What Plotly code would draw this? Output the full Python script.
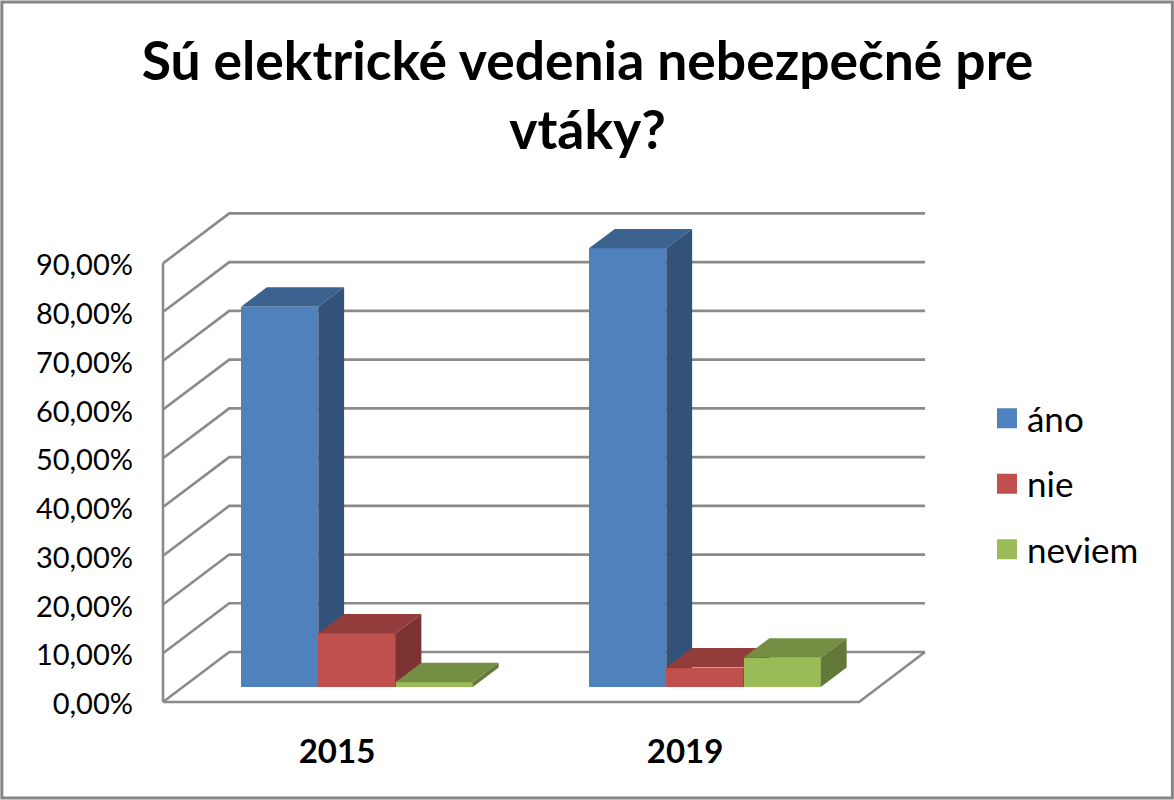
import plotly.graph_objects as go

# ---- data ----
title_text = "Sú elektrické vedenia nebezpečné pre<br>vtáky?"
years = ["2015", "2019"]
series_names = ["áno", "nie", "neviem"]
ano = [78, 90]
nie = [11, 4]
neviem = [1, 6]
y_ticks = [0, 10, 20, 30, 40, 50, 60, 70, 80, 90]
y_tick_labels = ["0,00%", "10,00%", "20,00%", "30,00%", "40,00%",
                 "50,00%", "60,00%", "70,00%", "80,00%", "90,00%"]

front_colors = ["#4F81BD", "#C0504D", "#9BBB59"]
top_colors = ["#3C6290", "#923D3B", "#768E44"]
side_colors = ["#325279", "#7C3331", "#647939"]
line_color = "#8A8A8A"
FONT = "Lato"

# ---- layout geometry (pixels of the 1174x800 page) ----
W, H = 1174, 800
L, R, T, B = 162.7, 925.0, 213.7, 702.3
PAD = 4.0                             # spare room so wall lines are not clipped
PX_PER_CAT = 348.15
PX_PER_PCT = 4.88
DEPTH_PX_X, DEPTH_PX_Y = 66.3, 50.0
x_lo = -0.5
x_hi = x_lo + (R - L) / PX_PER_CAT
y_hi = (B - T) / PX_PER_PCT
x_range = [x_lo - PAD / PX_PER_CAT, x_hi + PAD / PX_PER_CAT]
y_range = [-PAD / PX_PER_PCT, y_hi + PAD / PX_PER_PCT]
WALL_X = DEPTH_PX_X / PX_PER_CAT      # full depth, in x data units
WALL_Y = DEPTH_PX_Y / PX_PER_PCT      # full depth, in y data units
BAR_W = 77.3 / PX_PER_CAT
D0, D1 = 0.30, 0.69                   # bar depth span within the floor
x_front_end = x_lo + len(years)
LABEL_NUDGE = 2 / PX_PER_PCT          # tick label baseline correction for this font


def px(p):
    return (p - (L - PAD)) / (R - L + 2 * PAD)


def py(p):
    return (B + PAD - p) / (B - T + 2 * PAD)


fig = go.Figure()

# walls and floor, drawn on the base axes
wall_x, wall_y = [], []
for t in y_ticks:
    wall_x += [x_lo, x_lo + WALL_X, x_hi, None]
    wall_y += [t, t + WALL_Y, t + WALL_Y, None]
wall_x += [x_lo, x_lo, None, x_lo, x_front_end, x_hi]
wall_y += [y_ticks[0], y_ticks[-1], None, 0, 0, WALL_Y]
fig.add_trace(go.Scatter(x=wall_x, y=wall_y, mode="lines",
                         line=dict(color=line_color, width=2.6),
                         cliponaxis=False, showlegend=False, hoverinfo="skip"))

# one overlaid axis pair per series so each bar paints over the previous side face
all_values = [ano, nie, neviem]
for s, (name, values) in enumerate(zip(series_names, all_values)):
    xa, ya = f"x{s + 2}", f"y{s + 2}"
    xs = [c + WALL_X * D0 + (s - 1.5) * BAR_W for c in range(len(years))]
    base = WALL_Y * D0
    dx = WALL_X * (D1 - D0)
    dy = WALL_Y * (D1 - D0)
    fig.add_trace(go.Bar(
        x=[v + BAR_W / 2 for v in xs], y=values, base=[base] * len(values),
        width=BAR_W, marker=dict(color=front_colors[s], line=dict(width=0)),
        xaxis=xa, yaxis=ya, showlegend=False, name=name))
    for xl, v in zip(xs, values):
        xr = xl + BAR_W
        top = base + v
        fig.add_trace(go.Scatter(
            x=[xl, xr, xr + dx, xl + dx, xl], y=[top, top, top + dy, top + dy, top],
            mode="lines", fill="toself", fillcolor=top_colors[s], line=dict(width=0),
            xaxis=xa, yaxis=ya, showlegend=False, hoverinfo="skip"))
        fig.add_trace(go.Scatter(
            x=[xr, xr, xr + dx, xr + dx, xr], y=[base, top, top + dy, base + dy, base],
            mode="lines", fill="toself", fillcolor=side_colors[s], line=dict(width=0),
            xaxis=xa, yaxis=ya, showlegend=False, hoverinfo="skip"))
    # legend entry
    fig.add_trace(go.Scatter(
        x=[None], y=[None], mode="markers", name=name, legendgroup=name,
        marker=dict(symbol="square", size=16, color=front_colors[s],
                    line=dict(color=front_colors[s], width=4)),
        xaxis=xa, yaxis=ya))

layout = dict(
    width=W, height=H,
    margin=dict(l=L - PAD, r=W - R - PAD, t=T - PAD, b=H - B - PAD, pad=0, autoexpand=False),
    paper_bgcolor="white", plot_bgcolor="rgba(0,0,0,0)",
    font=dict(family=FONT, color="black", size=29),
    bargap=0, barmode="overlay",
    title=dict(text=title_text, x=587.5 / W, xanchor="center", xref="container",
               y=1 - 80 / H, yanchor="middle", yref="container",
               font=dict(family=FONT, size=53.4, weight=700, color="black")),
    xaxis=dict(range=x_range, tickmode="array", tickvals=list(range(len(years))),
               ticktext=years, showgrid=False, zeroline=False, showline=False, ticks="",
               ticklabelstandoff=23,
               tickfont=dict(family=FONT, size=33, weight=700, color="black")),
    yaxis=dict(range=y_range, tickmode="array",
               tickvals=[t - LABEL_NUDGE for t in y_ticks], ticktext=y_tick_labels,
               showgrid=False, zeroline=False, showline=False, ticks="",
               ticklabelstandoff=25,
               tickfont=dict(family=FONT, size=29, color="black")),
    legend=dict(x=px(987), xanchor="left", y=py(484), yanchor="middle",
                traceorder="grouped", tracegroupgap=17, itemwidth=30,
                bgcolor="rgba(0,0,0,0)", font=dict(family=FONT, size=35, color="black")),
    shapes=[dict(type="rect", xref="paper", yref="paper",
                 x0=px(1.5), x1=px(1172.5), y0=py(1.5), y1=py(798.5),
                 line=dict(color="#868686", width=3), fillcolor="rgba(0,0,0,0)")],
)
for s in range(len(series_names)):
    layout[f"xaxis{s + 2}"] = dict(range=x_range, overlaying="x", visible=False)
    layout[f"yaxis{s + 2}"] = dict(range=y_range, overlaying="y", visible=False)
fig.update_layout(**layout)

fig.write_html("out.html", config={"displayModeBar": False},
               post_script="document.body.style.margin='0';")
